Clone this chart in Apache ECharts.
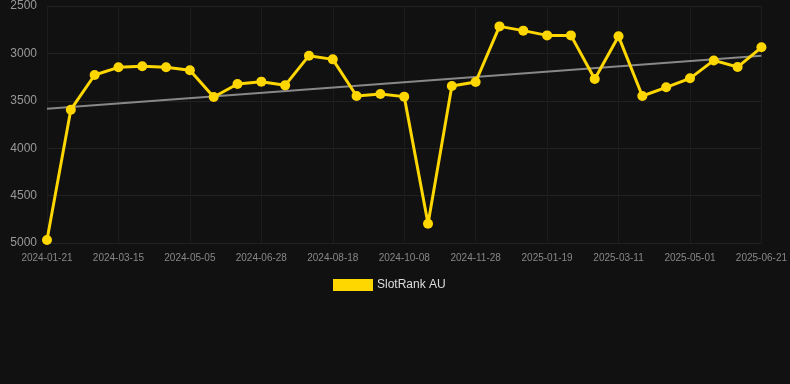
<!DOCTYPE html>
<html><head><meta charset="utf-8">
<script src="https://cdn.jsdelivr.net/npm/echarts@6/dist/echarts.min.js"></script>
<style>html,body{margin:0;padding:0;background:#111111;}#c{width:790px;height:384px;}</style>
</head><body><div id="c"></div>
<script>
const categories = ["2024-01-21","2024-02-08","2024-02-26","2024-03-15","2024-04-01","2024-04-18","2024-05-05","2024-05-23","2024-06-10","2024-06-28","2024-07-15","2024-08-01","2024-08-18","2024-09-04","2024-09-21","2024-10-08","2024-10-25","2024-11-11","2024-11-28","2024-12-15","2025-01-02","2025-01-19","2025-02-05","2025-02-22","2025-03-11","2025-03-28","2025-04-14","2025-05-01","2025-05-18","2025-06-04","2025-06-21"];
const rankValues = [4968,3594,3228,3147,3136,3147,3178,3460,3323,3298,3337,3024,3063,3449,3428,3456,4796,3344,3302,2715,2760,2810,2810,3270,2820,3449,3358,3263,3074,3144,2936];
const trendStart = 3583, trendEnd = 3024;
const yTicks = {min:2500, max:5000, interval:500};
const trendValues = categories.map((c,i)=> i===0 ? trendStart : (i===categories.length-1 ? trendEnd : null));
const chart = echarts.init(document.getElementById('c'));
chart.setOption({
  backgroundColor:'#111111',
  animation:false,
  grid:{left:47,right:28,top:6,bottom:141},
  legend:{data:['SlotRank AU'],top:274,left:328,itemWidth:40,itemHeight:12,icon:'rect',itemGap:10,
    textStyle:{color:'#dddddd',fontSize:12,padding:[0,0,0,-1],fontFamily:'Arial, Liberation Sans, sans-serif'}},
  xAxis:{type:'category',data:categories,boundaryGap:false,
    axisLine:{show:false},axisTick:{show:false},
    splitLine:{show:true,interval:2,lineStyle:{color:'#1c1c1c'}},
    axisLabel:{interval:2,color:'#888888',fontSize:10,margin:10,fontFamily:'Arial, Liberation Sans, sans-serif'}},
  yAxis:{type:'value',inverse:true,min:yTicks.min,max:yTicks.max,interval:yTicks.interval,
    axisLine:{show:false},axisTick:{show:false},
    splitLine:{lineStyle:{color:'#222222'}},
    axisLabel:{color:'#999999',fontSize:12,margin:10,formatter:v=>String(v),fontFamily:'Arial, Liberation Sans, sans-serif'}},
  series:[
    {name:'Trend',type:'line',data:trendValues,connectNulls:true,symbol:'none',
      lineStyle:{color:'#888888',width:2},z:1},
    {name:'SlotRank AU',type:'line',data:rankValues,symbol:'circle',symbolSize:10,
      itemStyle:{color:'#FFD700'},lineStyle:{color:'#FFD700',width:3},z:2}
  ]
});
</script></body></html>
